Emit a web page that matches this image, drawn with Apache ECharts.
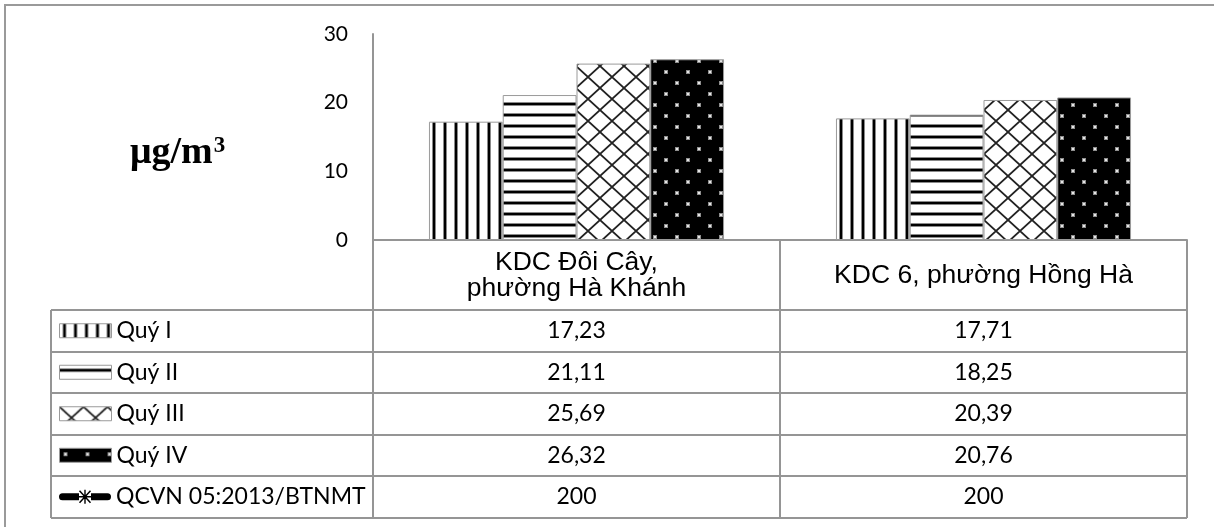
<!DOCTYPE html>
<html>
<head>
<meta charset="utf-8">
<script src="https://cdn.jsdelivr.net/npm/echarts@6/dist/echarts.min.js"></script>
<style>
  html, body { margin: 0; padding: 0; background: #fff; }
  #chart { width: 1214px; height: 527px; }
</style>
</head>
<body>
<div id="chart"></div>
<script>
// Sampling sites (x categories)
const categories = ['KDC Đôi Cây,\nphường Hà Khánh', 'KDC 6, phường Hồng Hà'];
// Quarterly concentrations, µg/m³
const seriesNames = ['Quý I', 'Quý II', 'Quý III', 'Quý IV'];
const quy1 = [17.23, 17.71];
const quy2 = [21.11, 18.25];
const quy3 = [25.69, 20.39];
const quy4 = [26.32, 20.76];
// National standard limit
const qcvnName = 'QCVN 05:2013/BTNMT';
const qcvn = [200, 200];
// Value axis ticks
const yTicks = [0, 10, 20, 30];
const unitText = 'μg/m';
const unitSup = '3';

const LINE = '#959595';
const FONT_NUM = 'Lato';

// Fill patterns for the bars
function tile(w, h, draw) {
  const c = document.createElement('canvas');
  c.width = w; c.height = h;
  draw(c.getContext('2d'), w, h);
  return { image: c, repeat: 'repeat' };
}
const patVertical = tile(11, 11, (g, w, h) => {
  g.fillStyle = '#fff'; g.fillRect(0, 0, w, h);
  g.fillStyle = '#8a8a8a'; g.fillRect(3, 0, 4, h);
  g.fillStyle = '#000'; g.fillRect(4, 0, 2, h);
});
const patHorizontal = tile(11, 11, (g, w, h) => {
  g.fillStyle = '#fff'; g.fillRect(0, 0, w, h);
  g.fillStyle = '#8a8a8a'; g.fillRect(0, 3, w, 4);
  g.fillStyle = '#000'; g.fillRect(0, 4, w, 2);
});
const patCross = tile(24, 22, (g, w, h) => {
  g.fillStyle = '#fff'; g.fillRect(0, 0, w, h);
  g.strokeStyle = '#222'; g.lineWidth = 1.8;
  g.beginPath();
  g.moveTo(-2.4, -2.2); g.lineTo(w + 2.4, h + 2.2);
  g.moveTo(w + 2.4, -2.2); g.lineTo(-2.4, h + 2.2);
  g.stroke();
});
const patDots = tile(22, 22, (g, w, h) => {
  g.fillStyle = '#000'; g.fillRect(0, 0, w, h);
  g.fillStyle = '#8f8f8f';
  g.fillRect(4, 4, 4, 4);
  g.fillRect(15, 15, 4, 4);
  g.fillStyle = '#e6e6e6';
  g.fillRect(5, 5, 2, 2);
  g.fillRect(16, 16, 2, 2);
});
const patterns = [patVertical, patHorizontal, patCross, patDots];

// Legend glyph for the limit line: thick rounded line broken by an asterisk marker
const qcvnIcon = 'path://' +
  'M3.5,3.5 L20,3.5 L20,10.5 L3.5,10.5 A3.5,3.5 0 0 1 3.5,3.5 Z ' +
  'M32,3.5 L48.5,3.5 A3.5,3.5 0 0 1 48.5,10.5 L32,10.5 Z ' +
  'M20,6.3 L32,6.3 L32,7.7 L20,7.7 Z ' +
  'M25.3,0 L26.7,0 L26.7,14 L25.3,14 Z ' +
  'M21.05,0.49 L32.05,12.49 L30.95,13.51 L19.95,1.51 Z ' +
  'M32.05,1.51 L21.05,13.51 L19.95,12.49 L30.95,0.49 Z';

const valueRows = [quy1, quy2, quy3, quy4, qcvn];
const rowNames = [...seriesNames, qcvnName];
const fmt = v => Number.isInteger(v) ? String(v) : v.toFixed(2).replace('.', ',');

const GRID = { left: 373, top: 34, width: 814, height: 206 };
const TABLE = { left: 51, headerBottom: 310, rowH: 41.5 };
const LEGEND_TEXT_H = 28;

const chart = echarts.init(document.getElementById('chart'), null, { renderer: 'canvas' });

const barSeries = [quy1, quy2, quy3, quy4].map((d, i) => ({
  name: seriesNames[i],
  type: 'bar',
  data: d,
  barGap: '0%',
  barCategoryGap: '27.5%',
  itemStyle: { color: patterns[i], borderColor: '#9a9a9a', borderWidth: 1 },
  emphasis: { disabled: true }
}));

// one legend per table row, so each key sits in its own row
const legends = rowNames.map((name, r) => ({
  orient: 'horizontal',
  left: 59,
  top: TABLE.headerBottom + (r + 0.5) * TABLE.rowH - LEGEND_TEXT_H / 2,
  padding: 0,
  itemWidth: 52,
  itemHeight: 14,
  selectedMode: false,
  itemStyle: { borderWidth: 1 },
  textStyle: { fontFamily: FONT_NUM, fontSize: 23, color: '#000', lineHeight: LEGEND_TEXT_H },
  data: [name === qcvnName
    ? { name, icon: qcvnIcon, itemStyle: { color: '#000', borderWidth: 0 } }
    : { name, icon: 'rect' }]
}));

chart.setOption({
  animation: false,
  grid: { left: GRID.left, top: GRID.top, width: GRID.width, height: GRID.height, containLabel: false },
  xAxis: {
    type: 'category',
    data: categories,
    boundaryGap: true,
    axisLine: { show: true, lineStyle: { color: LINE, width: 2 } },
    axisTick: { show: false },
    axisLabel: {
      interval: 0,
      margin: 36,
      verticalAlign: 'middle',
      fontFamily: 'Liberation Sans',
      fontSize: 26.5,
      lineHeight: 26,
      color: '#000'
    }
  },
  yAxis: {
    type: 'value',
    min: yTicks[0],
    max: yTicks[yTicks.length - 1],
    interval: yTicks[1] - yTicks[0],
    axisLine: { show: true, lineStyle: { color: LINE, width: 2 } },
    axisTick: { show: false },
    splitLine: { show: false },
    axisLabel: { margin: 25, fontFamily: FONT_NUM, fontSize: 21, color: '#000' }
  },
  legend: legends,
  series: [
    ...barSeries,
    {
      name: qcvnName,
      type: 'line',
      data: qcvn,
      clip: true,
      symbol: 'none',
      lineStyle: { color: '#000', width: 7 },
      itemStyle: { color: '#000' },
      emphasis: { disabled: true }
    }
  ]
});

// Data table under the plot, aligned with the category axis
const colCenters = categories.map((c, i) => chart.convertToPixel({ xAxisIndex: 0 }, i));
const zeroY = chart.convertToPixel({ yAxisIndex: 0 }, 0);
const axisX = GRID.left;
const rightX = GRID.left + GRID.width;
const midX = (colCenters[0] + colCenters[1]) / 2;
const bottomY = TABLE.headerBottom + TABLE.rowH * valueRows.length;

const g = [];
// outer frame
g.push({ type: 'rect', shape: { x: 5, y: 5, width: 1300, height: 600 },
  style: { fill: 'none', stroke: '#9a9a9a', lineWidth: 2 }, silent: true });
// horizontal rules
for (let r = 0; r <= valueRows.length; r++) {
  const y = Math.round(TABLE.headerBottom + r * TABLE.rowH);
  g.push({ type: 'line', shape: { x1: TABLE.left, y1: y, x2: rightX, y2: y },
    style: { stroke: LINE, lineWidth: 2 }, silent: true });
}
// vertical rules
[[TABLE.left, TABLE.headerBottom], [axisX, zeroY], [midX, zeroY], [rightX, zeroY]].forEach(([x, y0]) => {
  g.push({ type: 'line', shape: { x1: Math.round(x), y1: y0, x2: Math.round(x), y2: Math.round(bottomY) },
    style: { stroke: LINE, lineWidth: 2 }, silent: true });
});
// values
valueRows.forEach((row, r) => {
  const cy = TABLE.headerBottom + (r + 0.5) * TABLE.rowH;
  row.forEach((v, c) => {
    g.push({ type: 'text', x: colCenters[c], y: cy, silent: true,
      style: { text: fmt(v), fontFamily: FONT_NUM, fontSize: 23, fill: '#000', align: 'center', verticalAlign: 'middle' } });
  });
});
// unit label with superscript
const unitFont = 'bold 38px "Liberation Serif"';
const mctx = document.createElement('canvas').getContext('2d');
mctx.font = unitFont;
const unitW = mctx.measureText(unitText).width;
g.push({ type: 'text', x: 130, y: 153, silent: true,
  style: { text: unitText, fontFamily: 'Liberation Serif', fontWeight: 'bold', fontSize: 38, fill: '#000', align: 'left', verticalAlign: 'middle' } });
g.push({ type: 'text', x: 130 + unitW + 1, y: 146, silent: true,
  style: { text: unitSup, fontFamily: 'Liberation Serif', fontWeight: 'bold', fontSize: 23, fill: '#000', align: 'left', verticalAlign: 'middle' } });

chart.setOption({ graphic: g });
</script>
</body>
</html>
